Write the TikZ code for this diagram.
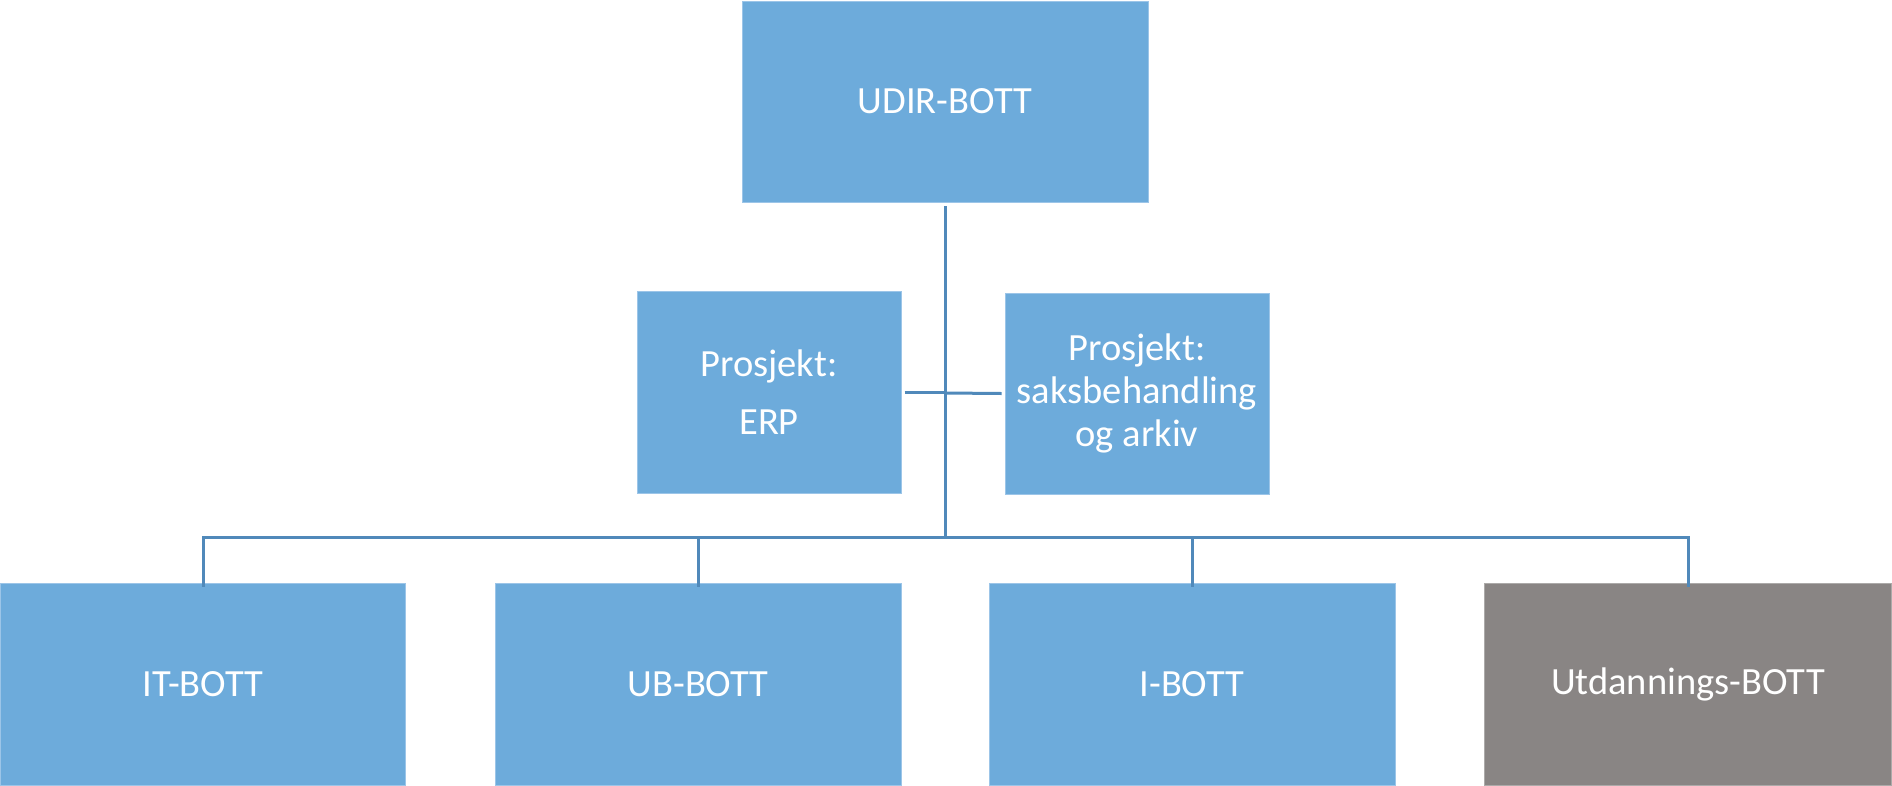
\documentclass[tikz,border=0pt]{standalone}
\usepackage{fontspec}
\setmainfont{Carlito}
\definecolor{boxblue}{HTML}{6DABDB}
\definecolor{boxedge}{HTML}{9CC5E8}
\definecolor{boxgray}{HTML}{898584}
\definecolor{linkblue}{HTML}{5089BA}
\begin{document}
\begin{tikzpicture}[x=1pt,y=-1pt,
  orgbox/.style={rectangle, fill=boxblue, draw=boxedge, line width=1pt,
    text=white, align=center, inner sep=0pt,
    font=\fontsize{38.5}{43}\selectfont},
  graybox/.style={orgbox, fill=boxgray, draw=boxgray!70!white},
  link/.style={draw=linkblue, line width=3pt}]
\useasboundingbox (0,0) rectangle (1892,785);
\node[orgbox, minimum width=406pt, minimum height=201pt] (udir) at (945,101.5) {UDIR-BOTT};
\node[orgbox, minimum width=264pt, minimum height=202pt] (erp) at (769,392) {Prosjekt:\\[15pt]ERP};
\node[orgbox, minimum width=264pt, minimum height=201pt] (saks) at (1137,393.5) {Prosjekt:\\saksbehandling\\og arkiv};
\node[orgbox, minimum width=405pt, minimum height=202pt] (it) at (203,684) {IT-BOTT};
\node[orgbox, minimum width=406pt, minimum height=202pt] (ub) at (698,684) {UB-BOTT};
\node[orgbox, minimum width=406pt, minimum height=202pt] (ib) at (1192,684) {I-BOTT};
\node[graybox, minimum width=407pt, minimum height=202pt] (ut) at (1688,684) {Utdannings-BOTT};
\coordinate (top) at (945,206);
\coordinate (bus) at (945,537);
\draw[link] (top) -- (bus);
\draw[link] ([xshift=3pt]erp.east) -- (945,392);
\draw[link] (945,393) -- ([xshift=-3pt]saks.west);
\draw[link] ([yshift=-4pt]it.north) |- (bus) -| ([yshift=-4pt]ut.north);
\draw[link] ([yshift=-4pt]ub.north) -- (ub.north |- bus);
\draw[link] ([yshift=-4pt]ib.north) -- (ib.north |- bus);
\end{tikzpicture}
\end{document}
